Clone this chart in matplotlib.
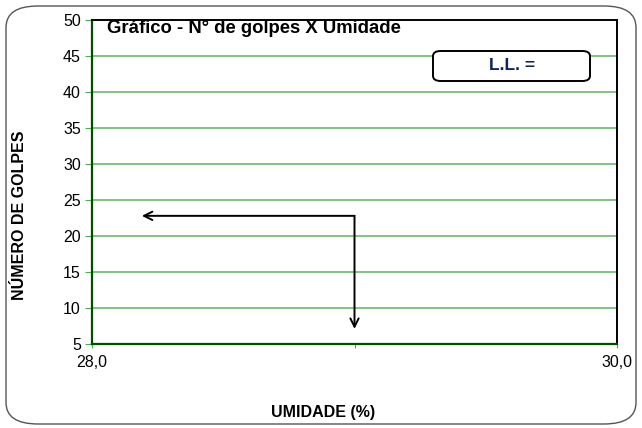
import matplotlib.pyplot as plt
from matplotlib.patches import FancyBboxPatch

plt.rcParams['font.family'] = ['Liberation Sans', 'DejaVu Sans']

# dados do gráfico
x_ticks = [28.0, 29.0, 30.0]
x_labels = ['28,0', '', '30,0']
y_ticks = [5, 10, 15, 20, 25, 30, 35, 40, 45, 50]

# setas de leitura (canto, ponta horizontal, ponta vertical)
arrow_corner = (29.0, 22.8)
arrow_h_end = 28.19
arrow_v_end = 7.1

fig = plt.figure(figsize=(6.42, 4.28), dpi=100)
ax = fig.add_axes([92 / 642, 1 - 344 / 428, 525 / 642, 324 / 428])

# moldura arredondada em volta da figura
frame = FancyBboxPatch((6 / 642, 4 / 428), 630 / 642, 418 / 428,
                       boxstyle='round,pad=0,rounding_size=0.05',
                       transform=fig.transFigure, fill=False,
                       edgecolor='#555555', linewidth=1.0)
fig.patches.append(frame)

ax.set_xlim(28.0, 30.0)
ax.set_ylim(5, 50)
ax.set_xticks(x_ticks)
ax.set_xticklabels(x_labels, fontsize=11.5)
ax.set_yticks(y_ticks)
ax.set_yticklabels([str(v) for v in y_ticks], fontsize=11.5)

for y in y_ticks[1:-1]:
    ax.axhline(y, color='#70b870', linewidth=1.2, zorder=1)

ax.spines['left'].set_color('#004d00')
ax.spines['bottom'].set_color('#004d00')
ax.spines['left'].set_linewidth(1.6)
ax.spines['bottom'].set_linewidth(1.6)
ax.spines['top'].set_color('black')
ax.spines['right'].set_color('black')
ax.spines['top'].set_linewidth(1.4)
ax.spines['right'].set_linewidth(1.4)
ax.tick_params(axis='y', direction='out', length=5, color='#4caf50', pad=3)
ax.tick_params(axis='x', direction='out', length=3, color='#4caf50', pad=5)

# setas
ax.annotate('', xy=(arrow_h_end, arrow_corner[1]), xytext=arrow_corner,
            arrowprops=dict(arrowstyle='->', color='black', lw=1.4,
                            shrinkA=0, shrinkB=0, mutation_scale=15))
ax.annotate('', xy=(arrow_corner[0], arrow_v_end), xytext=arrow_corner,
            arrowprops=dict(arrowstyle='->', color='black', lw=1.4,
                            shrinkA=0, shrinkB=0, mutation_scale=15))

ax.text(0.029, 1.0, 'Gráfico - N° de golpes X Umidade', transform=ax.transAxes,
        fontsize=13.3, fontweight='bold', va='top', ha='left')

# caixa do L.L.
ll_box = FancyBboxPatch((433 / 642, 1 - 81 / 428), 157 / 642, 30 / 428,
                        boxstyle='round,pad=0,rounding_size=0.012',
                        transform=fig.transFigure, fc='white', ec='black',
                        lw=1.4, zorder=5)
fig.patches.append(ll_box)
fig.text(512 / 642, 1 - 66 / 428, 'L.L. =', fontsize=12.5, fontweight='bold',
         color='#0f2457', ha='center', va='center', zorder=6)

fig.text(20 / 642, 1 - 215 / 428, 'NÚMERO DE GOLPES', rotation=90,
         fontsize=11.5, fontweight='bold', ha='center', va='center')
fig.text(323 / 642, 1 - 412 / 428, 'UMIDADE (%)', fontsize=11.5,
         fontweight='bold', ha='center', va='center')

fig.savefig('out.png', dpi=100)
